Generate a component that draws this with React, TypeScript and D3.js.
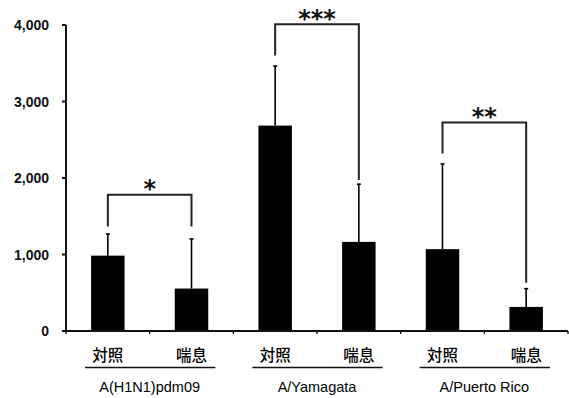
import React from "react";
import * as d3 from "d3";

const groups = ["A(H1N1)pdm09", "A/Yamagata", "A/Puerto Rico"];
const conditions = ["対照", "喘息"];
const controlMeans = [985, 2685, 1070];
const controlSD = [290, 785, 1120];
const asthmaMeans = [555, 1165, 315];
const asthmaSD = [655, 760, 245];
const bracketLevel = [1780, 4010, 2725];
const bracketLeftEnd = [1365, 3600, 2320];
const bracketRightEnd = [1365, 1975, 630];
const significance = ["*", "***", "**"];
const yTicks = [0, 1000, 2000, 3000, 4000];

const W = 569;
const H = 398;

export default function App() {
  const keys = groups.flatMap((g) => conditions.map((c) => g + "|" + c));
  const x = d3.scaleBand<string>().domain(keys).range([66, 568]).paddingInner(0.6).paddingOuter(0.3);
  const y = d3.scaleLinear().domain([0, 4000]).range([331, 25]);
  const step = x.step();
  const bw = x.bandwidth();
  const fmt = d3.format(",");

  const bars = groups.flatMap((g, gi) => [
    { key: g + "|" + conditions[0], mean: controlMeans[gi], sd: controlSD[gi] },
    { key: g + "|" + conditions[1], mean: asthmaMeans[gi], sd: asthmaSD[gi] },
  ]);

  const x0 = 66;
  const boundaries = d3.range(keys.length + 1).map((i) => x0 + i * step);

  return (
    <svg width={W} height={H} style={{ position: "absolute", left: 0, top: 0 }}>
      <rect width={W} height={H} fill="#fff" />
      {/* bars */}
      {bars.map((b) => {
        const cx = (x(b.key) as number) + bw / 2;
        return (
          <g key={b.key}>
            <line x1={cx} x2={cx} y1={y(b.mean)} y2={y(b.mean + b.sd)} stroke="#000" strokeWidth={1.6} />
            <line x1={cx - 2} x2={cx + 2} y1={y(b.mean + b.sd) + 0.5} y2={y(b.mean + b.sd) + 0.5} stroke="#000" strokeWidth={1.6} />
            <rect x={x(b.key)} y={y(b.mean)} width={bw} height={y(0) - y(b.mean)} fill="#000" />
          </g>
        );
      })}
      {/* y axis */}
      <line x1={66} x2={66} y1={y(4000)} y2={y(0)} stroke="#111" strokeWidth={2} />
      {yTicks.map((t) => (
        <g key={t}>
          <line x1={62} x2={66} y1={y(t)} y2={y(t)} stroke="#111" strokeWidth={2} />
          <text x={49} y={y(t)} dy="0.36em" textAnchor="end" fontFamily="Liberation Sans, Arial" fontWeight="bold" fontSize={14} fill="#111">
            {fmt(t)}
          </text>
        </g>
      ))}
      {/* x axis */}
      <line x1={62} x2={568} y1={y(0)} y2={y(0)} stroke="#111" strokeWidth={2} />
      {boundaries.map((bx, i) => (
        <line key={i} x1={bx} x2={bx} y1={y(0)} y2={y(0) + 3} stroke="#111" strokeWidth={1.4} />
      ))}
      {/* category labels */}
      {bars.map((b) => {
        const cx = (x(b.key) as number) + bw / 2;
        return (
          <text key={"l" + b.key} x={cx} y={360.5} textAnchor="middle" fontFamily="Noto Sans CJK JP" fontWeight={500} fontSize={15.5} fill="#000">
            {b.key.split("|")[1]}
          </text>
        );
      })}
      {/* group underline & labels */}
      {groups.map((g, gi) => {
        const gs = x0 + gi * 2 * step;
        const ge = gs + 2 * step;
        return (
          <g key={g}>
            <line x1={gs + 19} x2={ge - 18} y1={367.5} y2={367.5} stroke="#111" strokeWidth={1.4} />
            <text x={(gs + ge) / 2} y={391.5} textAnchor="middle" fontFamily="Liberation Sans, Arial" fontSize={14.5} fill="#000">
              {g}
            </text>
          </g>
        );
      })}
      {/* brackets */}
      {groups.map((g, gi) => {
        const lx = (x(g + "|" + conditions[0]) as number) + bw / 2;
        const rx = (x(g + "|" + conditions[1]) as number) + bw / 2;
        const by = y(bracketLevel[gi]);
        const path = `M${lx},${y(bracketLeftEnd[gi])}V${by}H${rx}V${y(bracketRightEnd[gi])}`;
        return (
          <g key={"b" + g}>
            <path d={path} fill="none" stroke="#222" strokeWidth={2} />
            <text x={(lx + rx) / 2} y={by + 2.5} textAnchor="middle" fontFamily="DejaVu Sans" fontWeight="bold" fontSize={24} fill="#111">
              {significance[gi]}
            </text>
          </g>
        );
      })}
    </svg>
  );
}
